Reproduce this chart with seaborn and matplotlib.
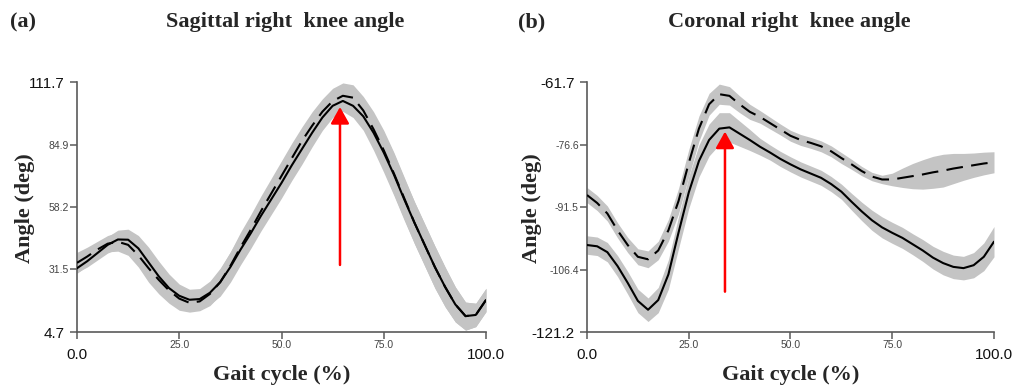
import numpy as np
import pandas as pd
import matplotlib
matplotlib.use("Agg")
import matplotlib.pyplot as plt
import seaborn as sns

# ---------------- data ----------------
gait = [0, 2.5, 5, 7.5, 10, 12.5, 15, 17.5, 20, 22.5, 25, 27.5, 30, 32.5, 35, 37.5, 40,
        42.5, 45, 47.5, 50, 52.5, 55, 57.5, 60, 62.5, 65, 67.5, 70, 72.5, 75, 77.5, 80,
        82.5, 85, 87.5, 90, 92.5, 95, 97.5, 100]

sag_solid = [32.0, 35.0, 38.5, 42.0, 44.3, 44.2, 40.5, 34.5, 28.5, 23.5, 20.2, 18.5, 18.8,
             21.5, 26.0, 32.5, 40.0, 47.0, 54.5, 61.5, 68.5, 76.0, 83.0, 90.0, 96.5, 101.5,
             103.6, 101.5, 97.0, 90.0, 81.5, 72.0, 61.5, 51.5, 42.0, 32.5, 24.0, 16.5, 11.5,
             12.0, 18.4]
sag_solid_sd = [1.8, 2.5, 3.0, 3.5, 4.0, 4.5, 5.5, 6.5, 6.5, 6.0, 5.0, 4.5, 4.5, 5.0, 6.0,
                6.5, 6.5, 6.5, 6.5, 6.5, 6.5, 6.5, 6.5, 6.0, 5.5, 5.0, 4.5, 5.0, 6.0, 7.5,
                8.5, 9.0, 9.0, 9.0, 9.0, 9.0, 8.5, 7.5, 6.0, 5.0, 5.0]
sag_dashed = [34.3, 37.0, 40.0, 42.5, 43.3, 42.0, 37.5, 32.0, 27.0, 22.5, 19.0, 17.2, 17.8,
              21.0, 26.0, 33.0, 41.0, 48.5, 56.5, 64.0, 71.5, 79.0, 86.5, 93.0, 99.0, 103.5,
              105.8, 105.0, 99.5, 91.5, 82.5, 72.5, 62.0, 51.5, 42.0, 32.5, 24.0, 16.5, 11.5,
              12.0, 18.4]
sag_dashed_sd = [4.5, 4.0, 3.5, 3.5, 4.0, 4.5, 5.0, 6.0, 6.0, 5.5, 5.0, 4.0, 4.0, 5.0, 5.5,
                 6.0, 6.5, 6.5, 6.5, 6.5, 6.5, 6.5, 6.0, 6.0, 5.5, 5.5, 5.5, 5.5, 6.0, 7.5,
                 8.5, 9.0, 9.0, 9.0, 9.0, 9.0, 8.5, 7.5, 6.0, 5.0, 5.0]

cor_solid = [-100.5, -100.8, -102.2, -105.5, -109.5, -113.8, -115.9, -113.6, -107.5, -97.5,
             -88.0, -80.5, -75.5, -72.8, -72.5, -74.0, -75.5, -77.1, -78.5, -80.0, -81.3,
             -82.5, -83.5, -84.5, -86.0, -87.8, -90.2, -92.5, -94.6, -96.3, -97.6, -98.8,
             -100.3, -101.8, -103.5, -104.8, -105.7, -106.0, -105.3, -103.3, -99.7]
cor_solid_sd = [2.2, 2.2, 2.3, 2.5, 2.7, 2.8, 2.8, 3.0, 3.5, 3.8, 3.8, 3.8, 3.8, 3.8, 3.5,
                3.0, 2.5, 2.0, 1.8, 1.8, 1.8, 1.8, 1.8, 1.8, 1.8, 1.8, 2.0, 2.2, 2.4, 2.5,
                2.5, 2.5, 2.5, 2.6, 2.7, 2.8, 2.8, 2.8, 3.0, 3.3, 3.6]
cor_dashed = [-88.6, -90.5, -93.0, -97.0, -100.5, -103.3, -103.9, -101.8, -97.0, -90.0,
              -81.0, -72.8, -67.0, -64.6, -65.0, -67.0, -68.8, -70.0, -71.5, -73.0, -74.5,
              -75.5, -76.2, -77.0, -78.2, -79.8, -81.3, -82.9, -84.2, -84.9, -84.9, -84.5,
              -84.1, -83.7, -83.2, -82.8, -82.3, -81.9, -81.5, -81.1, -80.8]
cor_dashed_sd = [1.8, 1.8, 1.8, 1.8, 1.8, 1.9, 2.0, 2.2, 2.6, 3.0, 3.2, 3.0, 2.6, 2.4, 2.2,
                 2.0, 1.8, 1.5, 1.4, 1.3, 1.3, 1.3, 1.3, 1.3, 1.3, 1.3, 1.2, 1.1, 1.0, 1.0,
                 1.5, 2.3, 3.0, 3.5, 3.8, 3.9, 3.6, 3.2, 2.9, 2.7, 2.5]

x_ticks = [0.0, 25.0, 50.0, 75.0, 100.0]
x_ticklabels = ["0.0", "25.0", "50.0", "75.0", "100.0"]
sag_yticks = [4.7, 31.5, 58.2, 84.9, 111.7]
cor_yticks = [-121.2, -106.4, -91.5, -76.6, -61.7]

sag_arrow = (64.3, 33.4, 101.0)     # x, start, tip
cor_arrow = (33.9, -111.6, -73.5)

titles = ["Sagittal right  knee angle", "Coronal right  knee angle"]
panel_tags = ["(a)", "(b)"]
xlabel = "Gait cycle (%)"
ylabel = "Angle (deg)"

# ---------------- style ----------------
sns.set_style("ticks")
plt.rcParams["font.family"] = ["Liberation Sans", "DejaVu Sans"]

BAND = "#c4c4c4"
SPINE = "#5a5a5a"
SERIF = ["Liberation Serif", "DejaVu Serif"]

fig = plt.figure(figsize=(10.2, 3.87), dpi=100)
axes = [fig.add_axes([77 / 1020, 1 - 332 / 387, 409 / 1020, 250 / 387]),
        fig.add_axes([587 / 1020, 1 - 332 / 387, 407 / 1020, 250 / 387])]

panels = [
    (sag_solid, sag_solid_sd, sag_dashed, sag_dashed_sd, sag_yticks, sag_arrow),
    (cor_solid, cor_solid_sd, cor_dashed, cor_dashed_sd, cor_yticks, cor_arrow),
]

title_x = [0.509, 0.496]
ylab_x = [-0.127, -0.135]
fig_tag_x = [10 / 1020, 518 / 1020]

for i, (ax, (ms, ss, md, sd, yt, arr)) in enumerate(zip(axes, panels)):
    g = np.array(gait)
    ms_, ss_, md_, sd_ = map(np.array, (ms, ss, md, sd))
    ax.fill_between(g, md_ - sd_, md_ + sd_, color=BAND, lw=0, zorder=1)
    ax.fill_between(g, ms_ - ss_, ms_ + ss_, color=BAND, lw=0, zorder=1)

    df = pd.DataFrame({
        "gait": list(gait) * 2,
        "angle": list(ms) + list(md),
        "cond": ["solid"] * len(gait) + ["dashed"] * len(gait),
    })
    sns.lineplot(data=df, x="gait", y="angle", style="cond",
                 dashes={"solid": "", "dashed": (8, 4)},
                 color="black", lw=1.5, legend=False, ax=ax,
                 estimator=None, sort=False, zorder=3)
    for ln in ax.get_lines():
        ln.set_solid_joinstyle("round")
        ln.set_dash_joinstyle("round")

    ax.annotate("", xy=(arr[0], arr[2]), xytext=(arr[0], arr[1]),
                arrowprops=dict(arrowstyle="-|>,head_length=0.5,head_width=0.28",
                                color="red", lw=1.8, mutation_scale=20,
                                shrinkA=0, shrinkB=0), zorder=4)

    ax.set_xlim(0, 100)
    ax.set_ylim(yt[0], yt[-1])
    ax.set_xticks(x_ticks)
    ax.set_xticklabels(x_ticklabels)
    ax.set_yticks(yt)
    ax.set_yticklabels([f"{v:.1f}" for v in yt])

    for s in ["top", "right"]:
        ax.spines[s].set_visible(False)
    for s in ["left", "bottom"]:
        ax.spines[s].set_color(SPINE)
        ax.spines[s].set_linewidth(1.2)

    ax.tick_params(axis="both", which="major", direction="out", length=5, width=1.1,
                   color=SPINE, labelsize=7.5, labelcolor="#444444", pad=1,
                   bottom=True, left=True, top=False, right=False)

    # end labels are larger
    xt = ax.xaxis.get_major_ticks()
    for k in (0, len(xt) - 1):
        xt[k].label1.set_fontsize(11)
        xt[k].label1.set_color("#111111")
        xt[k].set_pad(6.5)
    ytk = ax.yaxis.get_major_ticks()
    for k in (0, len(ytk) - 1):
        ytk[k].label1.set_fontsize(11)
        ytk[k].label1.set_color("#111111")
        ytk[k].set_pad(4)

    ax.set_xlabel(xlabel, family=SERIF, fontweight="bold", fontsize=16, va="center")
    ax.xaxis.set_label_coords(0.5, -0.172)
    ax.set_ylabel(ylabel, family=SERIF, fontweight="bold", fontsize=16, va="center")
    ax.yaxis.set_label_coords(ylab_x[i], 0.496)

    ax.text(title_x[i], (332 - 22) / 250, titles[i], transform=ax.transAxes,
            ha="center", va="center", family=SERIF, fontweight="bold", fontsize=16)
    fig.text(fig_tag_x[i], 1 - 22 / 387, panel_tags[i], ha="left", va="center",
             family=SERIF, fontweight="bold", fontsize=16)

fig.savefig("out.png", dpi=100)
